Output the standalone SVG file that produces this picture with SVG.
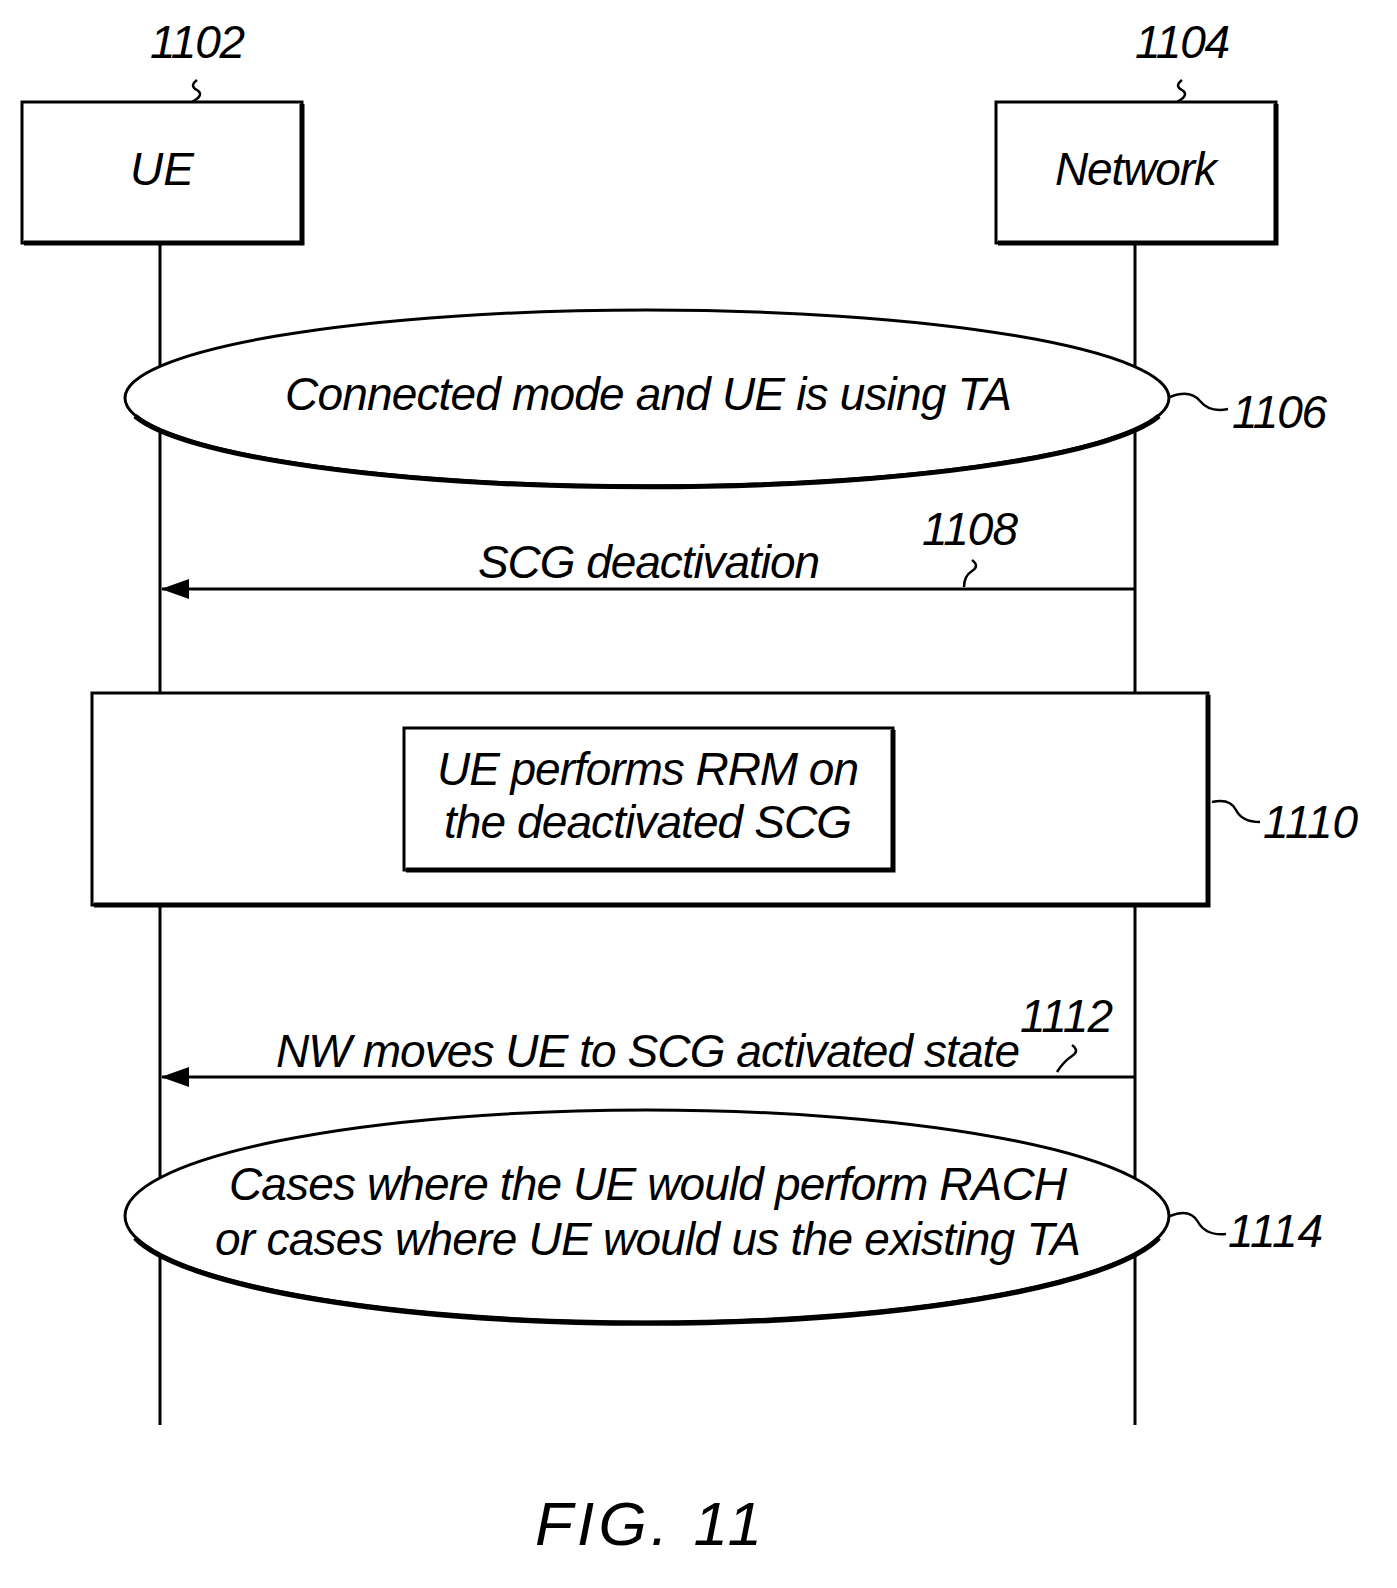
<svg xmlns="http://www.w3.org/2000/svg" width="1397" height="1588" viewBox="0 0 1397 1588">
<style>
text{font-family:"Liberation Sans",Arial,sans-serif;font-style:italic;fill:#000;font-size:46px}
.b{fill:#fff;stroke:#000;stroke-width:3}
.sh{fill:none;stroke:#000;stroke-width:5}
.l{stroke:#000;stroke-width:3;fill:none}
.q{stroke:#000;stroke-width:2.5;fill:none}
</style>
<defs><marker id="a" markerWidth="28" markerHeight="20" refX="27" refY="10" orient="auto" markerUnits="userSpaceOnUse"><path d="M28,10 L0,0 L0,20 Z" fill="#000"/></marker></defs>
<g id="connectors">
<line class="l" x1="160" y1="243" x2="160" y2="1425"/>
<line class="l" x1="1135" y1="243" x2="1135" y2="1425"/>
<line class="l" x1="1135" y1="589" x2="162" y2="589" marker-end="url(#a)"/>
<line class="l" x1="1135" y1="1077" x2="162" y2="1077" marker-end="url(#a)"/>
</g>
<g id="n1102"><rect class="b" x="22" y="102" width="280" height="141"/><path class="sh" d="M302,104 V243 H24"/><text x="162" y="185" text-anchor="middle">UE</text>
<text x="150" y="58" textLength="95">1102</text><path class="q" d="M197,80 q-8,6 0,10 q8,5 -5,12"/></g>
<g id="n1104"><rect class="b" x="996" y="102" width="280" height="141"/><path class="sh" d="M1276,104 V243 H998"/><text x="1136" y="185" text-anchor="middle" textLength="162">Network</text>
<text x="1135" y="58" textLength="95">1104</text><path class="q" d="M1182,80 q-8,6 0,10 q8,5 -5,12"/></g>
<g id="n1106"><ellipse class="b" cx="647" cy="398" rx="522" ry="88"/><path class="sh" d="M135,415 A522,88 0 0 0 1159,415" transform="translate(0,1)"/>
<text x="285" y="410" textLength="727">Connected mode and UE is using TA</text>
<text x="1232" y="428" textLength="95">1106</text><path class="q" d="M1170,397 q20,-8 30,4 q10,12 28,8"/></g>
<g id="n1108"><text x="478" y="578" textLength="342">SCG deactivation</text><text x="922" y="545" textLength="96">1108</text><path class="q" d="M972,560 q8,6 0,11 q-8,5 -8,16"/></g>
<g id="n1110"><rect class="b" x="92" y="693" width="1116" height="212"/><path class="sh" d="M1208,695 V905 H94"/>
<rect class="b" x="404" y="728" width="489" height="142"/><path class="sh" d="M893,730 V870 H406"/>
<text x="648" y="785" text-anchor="middle" textLength="422">UE performs RRM on</text>
<text x="648" y="838" text-anchor="middle" textLength="408">the deactivated SCG</text>
<text x="1263" y="838" textLength="95">1110</text><path class="q" d="M1212,802 q18,-4 24,8 q6,12 24,12"/></g>
<g id="n1112"><text x="276" y="1067" textLength="744">NW moves UE to SCG activated state</text><text x="1020" y="1032" textLength="93">1112</text><path class="q" d="M1072,1045 q8,6 0,11 q-8,5 -15,16"/></g>
<g id="n1114"><ellipse class="b" cx="647" cy="1216" rx="522" ry="106"/><path class="sh" d="M135,1237 A522,106 0 0 0 1159,1237" transform="translate(0,1)"/>
<text x="648" y="1200" text-anchor="middle" textLength="838">Cases where the UE would perform RACH</text>
<text x="648" y="1255" text-anchor="middle" textLength="866">or cases where UE would us the existing TA</text>
<text x="1228" y="1247" textLength="95">1114</text><path class="q" d="M1170,1216 q20,-8 28,6 q8,14 28,12"/></g>
<text x="535" y="1545" style="font-size:62px" textLength="227">FIG. 11</text>
</svg>
